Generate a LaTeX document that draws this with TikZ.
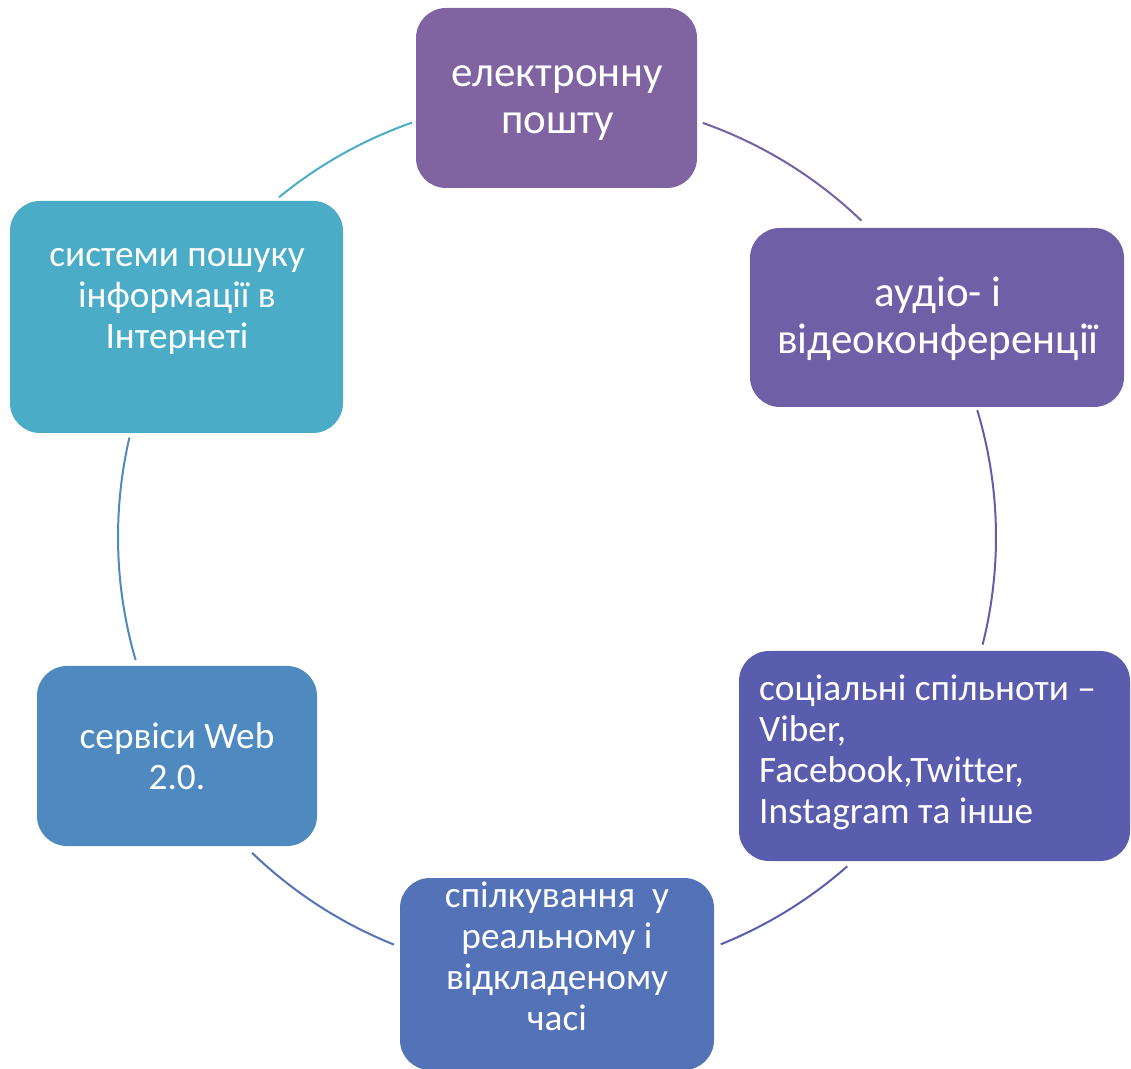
\documentclass[tikz,border=0pt]{standalone}
\usepackage{fontspec}
\setmainfont{Carlito}[Ligatures={NoCommon}]
\usetikzlibrary{calc}
\definecolor{cTop}{HTML}{8064A2}
\definecolor{cAudio}{HTML}{6E5FA7}
\definecolor{cSocial}{HTML}{5A5DAE}
\definecolor{cBottom}{HTML}{5472B8}
\definecolor{cWeb}{HTML}{4E89C0}
\definecolor{cSearch}{HTML}{4AACC6}
\definecolor{cArcTop}{HTML}{7561A6}
\definecolor{cArcRight}{HTML}{625EAC}
\tikzset{
  boxnode/.style={rectangle, rounded corners=30pt, draw=none, inner sep=0pt},
  bigtext/.style={text=white, align=center, font=\fontsize{43}{47}\selectfont, inner sep=0pt},
  smalltext/.style={text=white, align=center, font=\fontsize{37.3}{41}\selectfont, inner sep=0pt},
  arcline/.style={line width=2pt}
}
\begin{document}
\begin{tikzpicture}[x=1pt,y=1pt]
\useasboundingbox (0,0) rectangle (1131,1068);
% boxes
\node[boxnode, fill=cTop, minimum width=281pt, minimum height=180pt] (bTop) at (556.5,970) {};
\node[boxnode, fill=cAudio, minimum width=374pt, minimum height=179pt] (bAudio) at (937,750.5) {};
\node[boxnode, fill=cSocial, minimum width=391pt, minimum height=210pt] (bSocial) at (934.5,312) {};
\node[boxnode, fill=cBottom, minimum width=314pt, minimum height=192pt] (bBottom) at (557,94) {};
\node[boxnode, fill=cWeb, minimum width=280pt, minimum height=180pt] (bWeb) at (177,312) {};
\node[boxnode, fill=cSearch, minimum width=333pt, minimum height=232pt] (bSearch) at (176.5,751) {};
% texts
\node[bigtext] (tTop) at (557.5,964.5) {електронну\\пошту};
\node[bigtext] (tAudio) at (938,749) {аудіо- і\\відеоконференції};
\node[smalltext] (tSearch) at (177,767) {системи пошуку\\інформації в\\Інтернеті};
\node[smalltext, align=left, anchor=west] (tSocial) at (759,316) {соціальні спільноти –\\Viber,\\Facebook,Twitter,\\Instagram та інше};
\node[smalltext] (tBottom) at (557,112) {спілкування\ \ у\\реальному і\\відкладеному\\часі};
\node[smalltext] (tWeb) at (177,311.5) {сервіси Web\\2.0.};
% arcs on circle centre (557,531), radius 439
\coordinate (ctr) at (557,531);
\coordinate (a1) at ($(ctr)+(129.3:439)$);
\coordinate (a2) at ($(ctr)+(70.6:439)$);
\coordinate (a3) at ($(ctr)+(16.8:439)$);
\coordinate (a4) at ($(ctr)+(-48.6:439)$);
\coordinate (a5) at ($(ctr)+(-111.8:439)$);
\coordinate (a6) at ($(ctr)+(196.3:439)$);
\draw[arcline, cSearch] (a1) arc[start angle=129.3, end angle=109.3, radius=439];
\draw[arcline, cArcTop] (a2) arc[start angle=70.6, end angle=46.1, radius=439];
\draw[arcline, cArcRight] (a3) arc[start angle=16.8, end angle=-14.2, radius=439];
\draw[arcline, cSocial] (a4) arc[start angle=-48.6, end angle=-68.1, radius=439];
\draw[arcline, cBottom] (a5) arc[start angle=-111.8, end angle=-134, radius=439];
\draw[arcline, cWeb] (a6) arc[start angle=196.3, end angle=166.9, radius=439];
\end{tikzpicture}
\end{document}
